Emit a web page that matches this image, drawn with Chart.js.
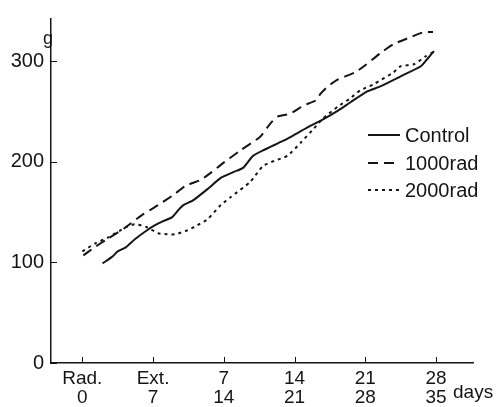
<!DOCTYPE html>
<html lang="en">
<head>
    <meta charset="UTF-8">
    <title>Body weight after irradiation</title>
    <script src="https://cdn.jsdelivr.net/npm/chart.js"></script>
    <style>
        html, body {
            margin: 0;
            padding: 0;
            background: white;
        }
        .chart-box {
            width: 504px;
            height: 407px;
        }
    </style>
</head>
<body>
    <div class="chart-box">
        <canvas id="weightChart" width="504" height="407"></canvas>
    </div>
    <script>
        // x axis: days, two label rows (after irradiation / after extirpation)
        const dayTicks = [0, 7, 14, 21, 28, 35];
        const tickRow1 = ['Rad.', 'Ext.', '7', '14', '21', '28'];
        const tickRow2 = ['0', '7', '14', '21', '28', '35'];
        const yTicks = [0, 100, 200, 300];

        const seriesNames = ['Control', '1000rad', '2000rad'];

        const controlDays = [2, 3, 3.5, 4.3, 5.2, 6.4, 7.2, 8, 8.9, 9.5, 10, 11, 12.4, 13.7, 15, 15.9, 16.9, 18, 19.9, 21, 22.6, 23.6, 25.3, 26.5, 28.2, 29.5, 31.5, 33.5, 34.2, 34.8];
        const controlWeights = [99, 106, 111, 115, 123, 132, 137, 141, 145, 152, 157, 162, 173, 184, 190, 194, 206, 212, 221, 227, 236, 241, 251, 259, 270, 275, 285, 295, 303, 310];

        const rad1000Days = [0.1, 1.2, 2.6, 4.3, 5.9, 7.5, 9, 10.2, 11.7, 12.7, 13.7, 15.6, 17.6, 18.6, 19.3, 20.6, 21.9, 23.1, 23.6, 24.3, 25.3, 27, 28, 29.5, 30.8, 32.5, 33.8, 34.7];
        const rad1000Weights = [107, 115, 124, 135, 147, 157, 167, 176, 182, 189, 197, 211, 225, 238, 245, 248, 256, 261, 268, 275, 282, 289, 296, 308, 317, 324, 329, 329];

        const rad2000Days = [0, 1.3, 2.6, 4.3, 5.2, 6.4, 7.5, 8.4, 9.2, 10.4, 11.4, 12.4, 13.7, 14.7, 16.6, 17.9, 19, 20.3, 21.6, 22.9, 23.8, 25.3, 26.5, 27.5, 28.8, 30.8, 31.5, 32.8, 34, 34.7];
        const rad2000Weights = [111, 119, 125, 135, 138, 135, 129, 128, 128, 132, 137, 143, 157, 165, 180, 196, 201, 206, 219, 233, 243, 255, 263, 271, 277, 289, 295, 297, 305, 309];

        const ink = '#151515';
        const font = '"Liberation Sans", Arial, sans-serif';
        const dashes = [[], [10, 6], [3, 4]];

        function toPoints(days, weights) {
            return days.map((d, i) => ({x: d, y: weights[i]}));
        }

        // inside tick marks, unit labels and the legend, like the printed figure
        const paperPlugin = {
            id: 'paper',
            afterDraw(chart) {
                const ctx = chart.ctx;
                const area = chart.chartArea;
                const x = chart.scales.x;
                const y = chart.scales.y;
                ctx.save();
                ctx.strokeStyle = ink;
                ctx.lineWidth = 1;
                dayTicks.forEach(v => {
                    const px = Math.round(x.getPixelForValue(v)) + 0.5;
                    ctx.beginPath();
                    ctx.moveTo(px, area.bottom);
                    ctx.lineTo(px, area.bottom - 6);
                    ctx.stroke();
                });
                yTicks.forEach(v => {
                    const py = Math.round(y.getPixelForValue(v)) + 0.5;
                    ctx.beginPath();
                    ctx.moveTo(area.left, py);
                    ctx.lineTo(area.left + 6, py);
                    ctx.stroke();
                });

                ctx.fillStyle = ink;
                ctx.textBaseline = 'alphabetic';
                ctx.font = '18px ' + font;
                ctx.textAlign = 'center';
                ctx.fillText('g', 48, 44);
                ctx.font = '19px ' + font;
                ctx.textAlign = 'left';
                ctx.fillText('days', 453, 398);

                // legend
                ctx.font = '20px ' + font;
                ctx.textBaseline = 'middle';
                const rows = [135, 163, 190];
                seriesNames.forEach((name, i) => {
                    ctx.beginPath();
                    ctx.setLineDash(dashes[i]);
                    ctx.lineWidth = 2;
                    ctx.moveTo(368, rows[i]);
                    ctx.lineTo(400, rows[i]);
                    ctx.stroke();
                    ctx.setLineDash([]);
                    ctx.fillText(name, 405, rows[i] + 1);
                });
                ctx.restore();
            }
        };

        const ctx = document.getElementById('weightChart').getContext('2d');
        new Chart(ctx, {
            type: 'line',
            data: {
                datasets: [{
                    label: seriesNames[0],
                    data: toPoints(controlDays, controlWeights),
                    borderDash: dashes[0]
                }, {
                    label: seriesNames[1],
                    data: toPoints(rad1000Days, rad1000Weights),
                    borderDash: dashes[1]
                }, {
                    label: seriesNames[2],
                    data: toPoints(rad2000Days, rad2000Weights),
                    borderDash: dashes[2]
                }]
            },
            options: {
                responsive: false,
                animation: false,
                parsing: true,
                elements: {
                    line: {borderColor: ink, borderWidth: 2, tension: 0.2, fill: false},
                    point: {radius: 0, hoverRadius: 0}
                },
                layout: {padding: {top: 14, right: 31, left: 0, bottom: 0}},
                plugins: {
                    legend: {display: false},
                    tooltip: {enabled: false}
                },
                scales: {
                    x: {
                        type: 'linear',
                        min: -3.1,
                        max: 38.66,
                        afterBuildTicks: scale => {
                            scale.ticks = dayTicks.map(v => ({value: v}));
                        },
                        afterFit: scale => {
                            scale.height = 44;
                        },
                        grid: {display: false, drawTicks: false},
                        border: {display: true, color: ink, width: 1.5},
                        ticks: {
                            autoSkip: false,
                            maxRotation: 0,
                            padding: 6,
                            color: ink,
                            font: {family: font, size: 19, lineHeight: 1.0},
                            callback: v => {
                                const i = dayTicks.indexOf(v);
                                return i < 0 ? '' : [tickRow1[i], tickRow2[i]];
                            }
                        }
                    },
                    y: {
                        type: 'linear',
                        min: 0,
                        max: 342,
                        afterBuildTicks: scale => {
                            scale.ticks = yTicks.map(v => ({value: v}));
                        },
                        afterFit: scale => {
                            scale.width = 51;
                        },
                        grid: {display: false, drawTicks: false},
                        border: {display: true, color: ink, width: 1.5},
                        ticks: {
                            padding: 7,
                            color: ink,
                            font: {family: font, size: 20}
                        }
                    }
                }
            },
            plugins: [paperPlugin]
        });
    </script>
</body>
</html>
